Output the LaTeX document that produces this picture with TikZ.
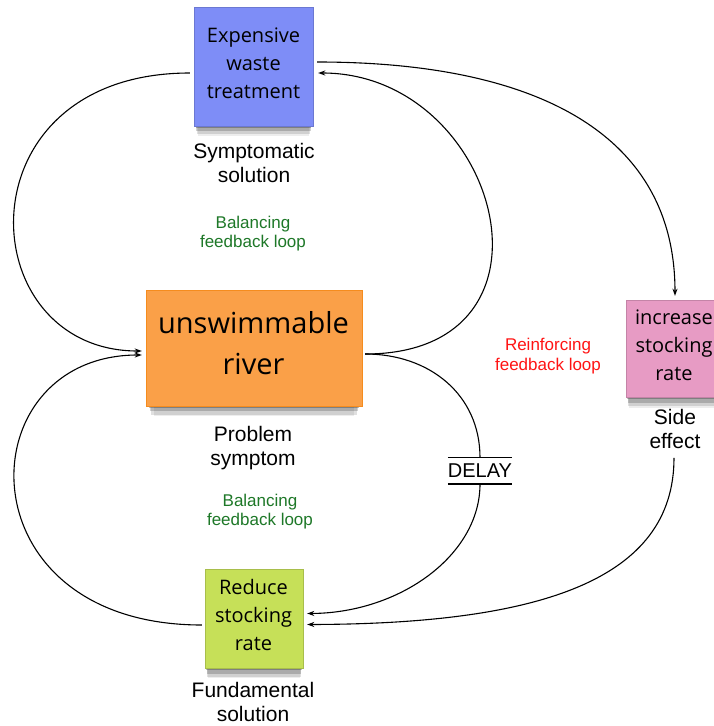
\documentclass[tikz,border=0pt]{standalone}
\usepackage{fontspec}
\setmainfont{Liberation Sans}
\newfontfamily\notefont{Open Sans}
\usetikzlibrary{arrows.meta,shadows,calc}
\definecolor{cblue}{RGB}{126,141,247}
\definecolor{corange}{RGB}{250,160,72}
\definecolor{corangeb}{RGB}{245,140,30}
\definecolor{cpink}{RGB}{231,155,196}
\definecolor{cgreen}{RGB}{198,224,88}
\definecolor{cdgreen}{RGB}{30,120,40}
\definecolor{cred}{RGB}{255,20,20}
\tikzset{
  sticky/.style={fill=#1, draw=#1!85!black, line width=0.4pt, inner sep=0pt,
    drop shadow={shadow xshift=0pt, shadow yshift=-15pt, shadow scale=0.93, opacity=0.07, fill=black},
    drop shadow={shadow xshift=0pt, shadow yshift=-12pt, shadow scale=0.95, opacity=0.12, fill=black},
    drop shadow={shadow xshift=0pt, shadow yshift=-8pt, shadow scale=0.96, opacity=0.18, fill=black},
    drop shadow={shadow xshift=0pt, shadow yshift=-4pt, shadow scale=0.97, opacity=0.25, fill=black}},
  notetext/.style={font=\notefont\fontsize{20}{28}\selectfont, align=center, inner sep=0pt},
  bigtext/.style={font=\notefont\fontsize{29}{41}\selectfont, align=center, inner sep=0pt},
  lab/.style={font=\fontsize{21}{24}\selectfont, align=center, inner sep=0pt},
  loopgreen/.style={font=\fontsize{17}{19.5}\selectfont, align=center, inner sep=0pt, text=cdgreen},
  loopred/.style={font=\fontsize{17}{19.5}\selectfont, align=center, inner sep=0pt, text=cred},
  arr/.style={draw, line width=1.1pt, -{Stealth[length=7pt,width=5pt]}},
}
\begin{document}
\begin{tikzpicture}[x=1pt,y=-1pt]
\useasboundingbox (0,0) rectangle (714,726);
\clip (0,0) rectangle (714,726);
\fill[white] (0,0) rectangle (714,726);

% sticky notes
\node[sticky=cblue, minimum width=119pt, minimum height=119pt] (blue) at (253.5,66.5) {};
\node[sticky=corange, draw=corangeb, minimum width=216pt, minimum height=116pt] (orange) at (254,348) {};
\node[sticky=cpink, minimum width=98pt, minimum height=97pt] (pink) at (675,348.5) {};
\node[sticky=cgreen, minimum width=98pt, minimum height=99pt] (green) at (254,618.5) {};

\node[notetext] (bluet) at (253.5,63) {Expensive\\waste\\treatment};
\node[bigtext] (oranget) at (253.5,343) {unswimmable\\river};
\node[notetext] (pinkt) at (674,344.8) {increase\\stocking\\rate};
\node[notetext] (greent) at (253.5,615.3) {Reduce\\stocking\\rate};

% labels
\node[lab] (symp) at (254,163.3) {Symptomatic\\solution};
\node[loopgreen] (bal1) at (253,233.5) {Balancing\\feedback loop};
\node[lab] (prob) at (253,448.4) {Problem\\symptom};
\node[loopgreen] (bal2) at (260,511.6) {Balancing\\feedback loop};
\node[loopred] (reinf) at (548,356.3) {Reinforcing\\feedback loop};
\node[lab] (side) at (675,429) {Side\\effect};
\node[lab] (fund) at (253,702) {Fundamental\\solution};
\node[font=\fontsize{20}{24}\selectfont, inner sep=0pt, minimum width=62pt, minimum height=26pt] (delay) at (480,470.8) {DELAY};
\draw[line width=1.1pt] (delay.north west) -- (delay.north east);
\draw[line width=1.1pt] (delay.south west) -- (delay.south east);

% connectors
\draw[arr] ($(blue.west)+(-4,6.5)$) .. controls (-42,73) and (-30,351) .. ($(orange.west)+(-4,3)$);
\draw[arr] ($(orange.east)+(3,6)$) .. controls (575,354) and (500,73) .. ($(blue.east)+(5,6.5)$);
\draw[arr] ($(blue.east)+(4,-4.5)$) .. controls (530,62) and (675,130) .. ($(pink.north)+(0,-4)$);
\draw[arr] ($(side.south)+(-1,9)$) .. controls (674,580) and (540,624) .. ($(green.east)+(4,6)$);
\draw[line width=1.1pt] ($(orange.east)+(3,6)$) .. controls (430,354) and (480,395) .. (delay.north);
\draw[arr] (delay.south) .. controls (480,555) and (400,613) .. ($(green.east)+(4,-5)$);
\draw[arr] ($(green.west)+(-3,6.5)$) .. controls (-40,625) and (-34,355) .. ($(orange.west)+(-4,7)$);
\end{tikzpicture}
\end{document}
